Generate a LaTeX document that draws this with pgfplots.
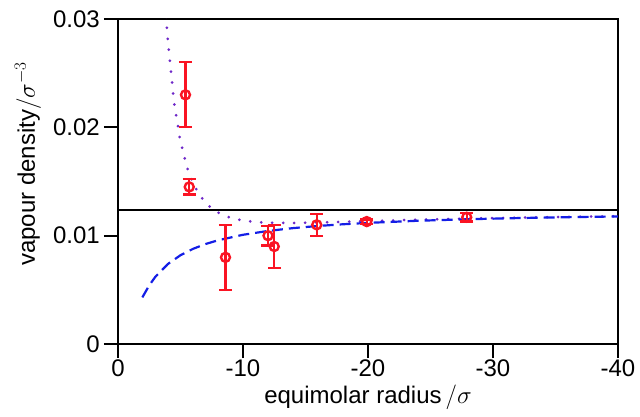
\documentclass[border=0pt]{standalone}
\usepackage{pgfplots}
\pgfplotsset{compat=1.18}
\usepackage{fontspec}
\setmainfont{Liberation Sans}

\definecolor{simred}{RGB}{250,20,35}
\definecolor{kelvinblue}{RGB}{20,30,230}
\definecolor{curvepurple}{RGB}{110,40,200}

\begin{document}
\begin{tikzpicture}
\begin{axis}[
  name=ax,
  anchor=south west, at={(0,0)},
  scale only axis,
  width=500bp, height=325bp,
  x dir=reverse,
  xmin=-40, xmax=0,
  ymin=0, ymax=0.03,
  scaled y ticks=false,
  axis line style={line width=2.2bp, black},
  tick style={line width=2.2bp, black},
  major tick length=14bp,
  tick align=outside,
  xtick pos=bottom, ytick pos=left,
  xtick={0,-10,-20,-30,-40},
  xticklabels={0,-10,-20,-30,-40},
  ytick={0,0.01,0.02,0.03},
  yticklabels={0,0.01,0.02,0.03},
  tick label style={font=\fontsize{24bp}{28bp}\selectfont},
  xticklabel style={inner sep=0bp, yshift=-2bp},
  yticklabel style={inner sep=4bp},
  every axis x label/.style={at={(axis description cs:0.5,-0.184)}, anchor=base,
    font=\fontsize{24bp}{28bp}\selectfont},
  every axis y label/.style={at={(axis description cs:-0.18,0.554)}, rotate=90, anchor=center,
    font=\fontsize{24bp}{28bp}\selectfont},
  xlabel={equimolar radius\,$/\sigma$},
  ylabel={vapour density$/\sigma^{-3}$},
  clip=true,
]
% bulk vapour density
\addplot[black, line width=2.2bp] coordinates {(0,0.0124) (-40,0.0124)};

% curvature-corrected prediction (dotted)
\addplot[curvepurple, line width=3bp, line cap=round, dash pattern=on 0bp off 11bp] coordinates {
(-3.85,0.03020) (-4,0.027859) (-4.5,0.022204) (-5,0.018677) (-5.5,0.016385)
(-6,0.014847) (-6.5,0.013789) (-7,0.013045) (-7.5,0.012514) (-8,0.012132)
(-9,0.011649) (-10,0.011391) (-11,0.011257) (-12,0.011194) (-14,0.011174)
(-16,0.011215) (-18,0.011278) (-20,0.011345) (-24,0.011471) (-28,0.011576)
(-32,0.011664) (-36,0.011735) (-40,0.011795)
};

% Kelvin-type prediction (dashed)
\addplot[kelvinblue, line width=2.2bp, dash pattern=on 11bp off 6bp] coordinates {
(-1.95,0.004300) (-2,0.004405) (-2.5,0.005417) (-3,0.006220) (-4,0.007390)
(-5,0.008197) (-6,0.008782) (-7,0.009226) (-8,0.009573) (-10,0.010081)
(-12,0.010436) (-14,0.010697) (-16,0.010895) (-18,0.011053) (-20,0.011181)
(-24,0.011376) (-28,0.011516) (-32,0.011624) (-36,0.011707) (-40,0.011775)
};

% simulation results
\addplot[simred, line width=2.2bp, only marks, mark=o, mark size=4.5bp,
  mark options={fill=white, line width=2.4bp, solid},
  error bars/.cd, y dir=both, y explicit,
  error bar style={line width=2.2bp, simred},
  error mark options={rotate=90, mark size=6.5bp, line width=2.2bp, simred}]
coordinates {
(-5.4,0.0230) +- (0,0.0030)
(-5.7,0.0145) +- (0,0.0007)
(-8.6,0.0080) +- (0,0.0030)
(-12.0,0.0100) +- (0,0.0009)
(-12.5,0.0090) +- (0,0.0020)
(-15.9,0.0110) +- (0,0.0010)
(-19.9,0.0113) +- (0,0.0002)
(-27.9,0.0117) +- (0,0.0004)
};
\end{axis}
\pgfresetboundingbox
\path[use as bounding box, shift={(ax.south west)}] (-118bp,-73bp) rectangle (522bp,344bp);
\end{tikzpicture}
\end{document}
